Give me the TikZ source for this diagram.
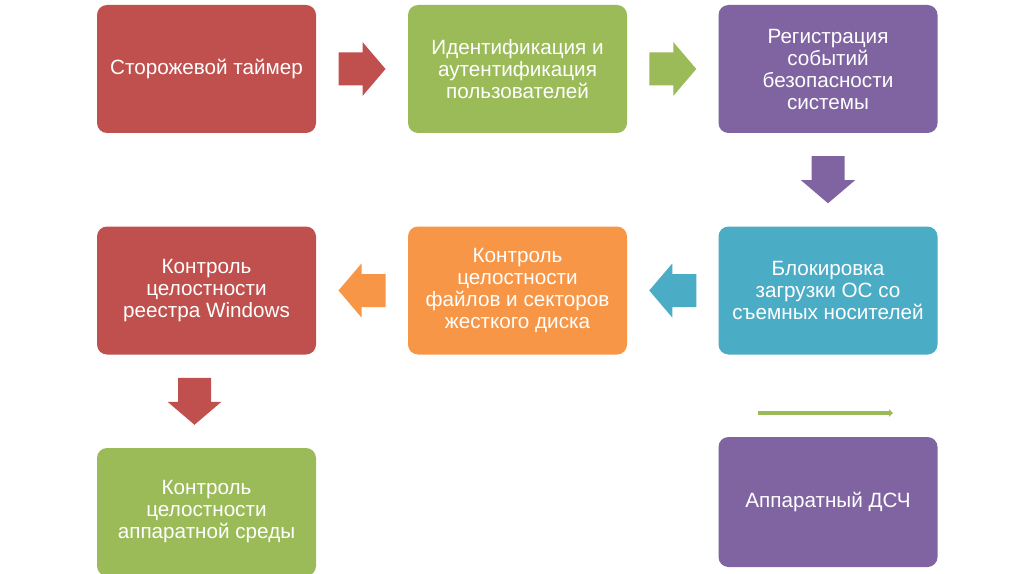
\documentclass[tikz,border=0pt]{standalone}
\usepackage{fontspec}
\setmainfont{Liberation Sans}
\usetikzlibrary{calc,arrows.meta}
\definecolor{cred}{HTML}{C0504D}
\definecolor{cgreen}{HTML}{9BBB59}
\definecolor{cpurple}{HTML}{8064A2}
\definecolor{cblue}{HTML}{4BACC6}
\definecolor{corange}{HTML}{F79646}
\begin{document}
\begin{tikzpicture}[x=0.75pt,y=-0.75pt,
  box/.style={rounded corners=7.5pt, minimum width=164.25pt, minimum height=96pt,
    align=center, text=white, font=\fontsize{15.5}{16.5}\selectfont, inner sep=0pt},
  blockarrow/.pic={\path[fill] (-23.5,-16.5) -- (0.5,-16.5) -- (0.5,-27) -- (23.5,0)
    -- (0.5,27) -- (0.5,16.5) -- (-23.5,16.5) -- cycle;}]
\fill[white] (0,0) rectangle (1024,574);
\useasboundingbox (0,0) rectangle (1024,574);
\node[box, fill=cred] (b1) at (206.5,69) {Сторожевой таймер};
\node[box, fill=cgreen] (b2) at (517.5,69) {Идентификация и\\аутентификация\\пользователей};
\node[box, fill=cpurple] (b3) at (828,69) {Регистрация\\событий\\безопасности\\системы};
\node[box, fill=cblue] (b4) at (828,290.5) {Блокировка\\загрузки ОС со\\съемных носителей};
\node[box, fill=corange] (b5) at (517.5,290.5) {Контроль\\целостности\\файлов и секторов\\жесткого диска};
\node[box, fill=cred] (b6) at (206.5,290.5) {Контроль\\целостности\\реестра Windows};
\node[box, fill=cgreen] (b7) at (206.5,512) {Контроль\\целостности\\аппаратной среды};
\node[box, fill=cpurple, minimum height=97.5pt] (b8) at (828,502) {Аппаратный ДСЧ};
\pic[fill=cred] at ($(b1.east)!0.5!(b2.west)$) {blockarrow};
\pic[fill=cgreen] at ($(b2.east)!0.5!(b3.west)$) {blockarrow};
\pic[fill=cpurple, rotate=-90] at ($(b3.south)!0.5!(b4.north)$) {blockarrow};
\pic[fill=cblue, rotate=180] at ($(b4.west)!0.5!(b5.east)$) {blockarrow};
\pic[fill=corange, rotate=180] at ($(b5.west)!0.5!(b6.east)$) {blockarrow};
\pic[fill=cred, rotate=-90] at ($(b6.south)!0.5!(b7.north)+(-12,0)$) {blockarrow};
\coordinate (l1) at (758,413);
\coordinate (l2) at (893,413);
\draw[cgreen, line width=3.2pt, -{Triangle[length=3pt,width=5.5pt]}] (l1) -- (l2);
\end{tikzpicture}
\end{document}
